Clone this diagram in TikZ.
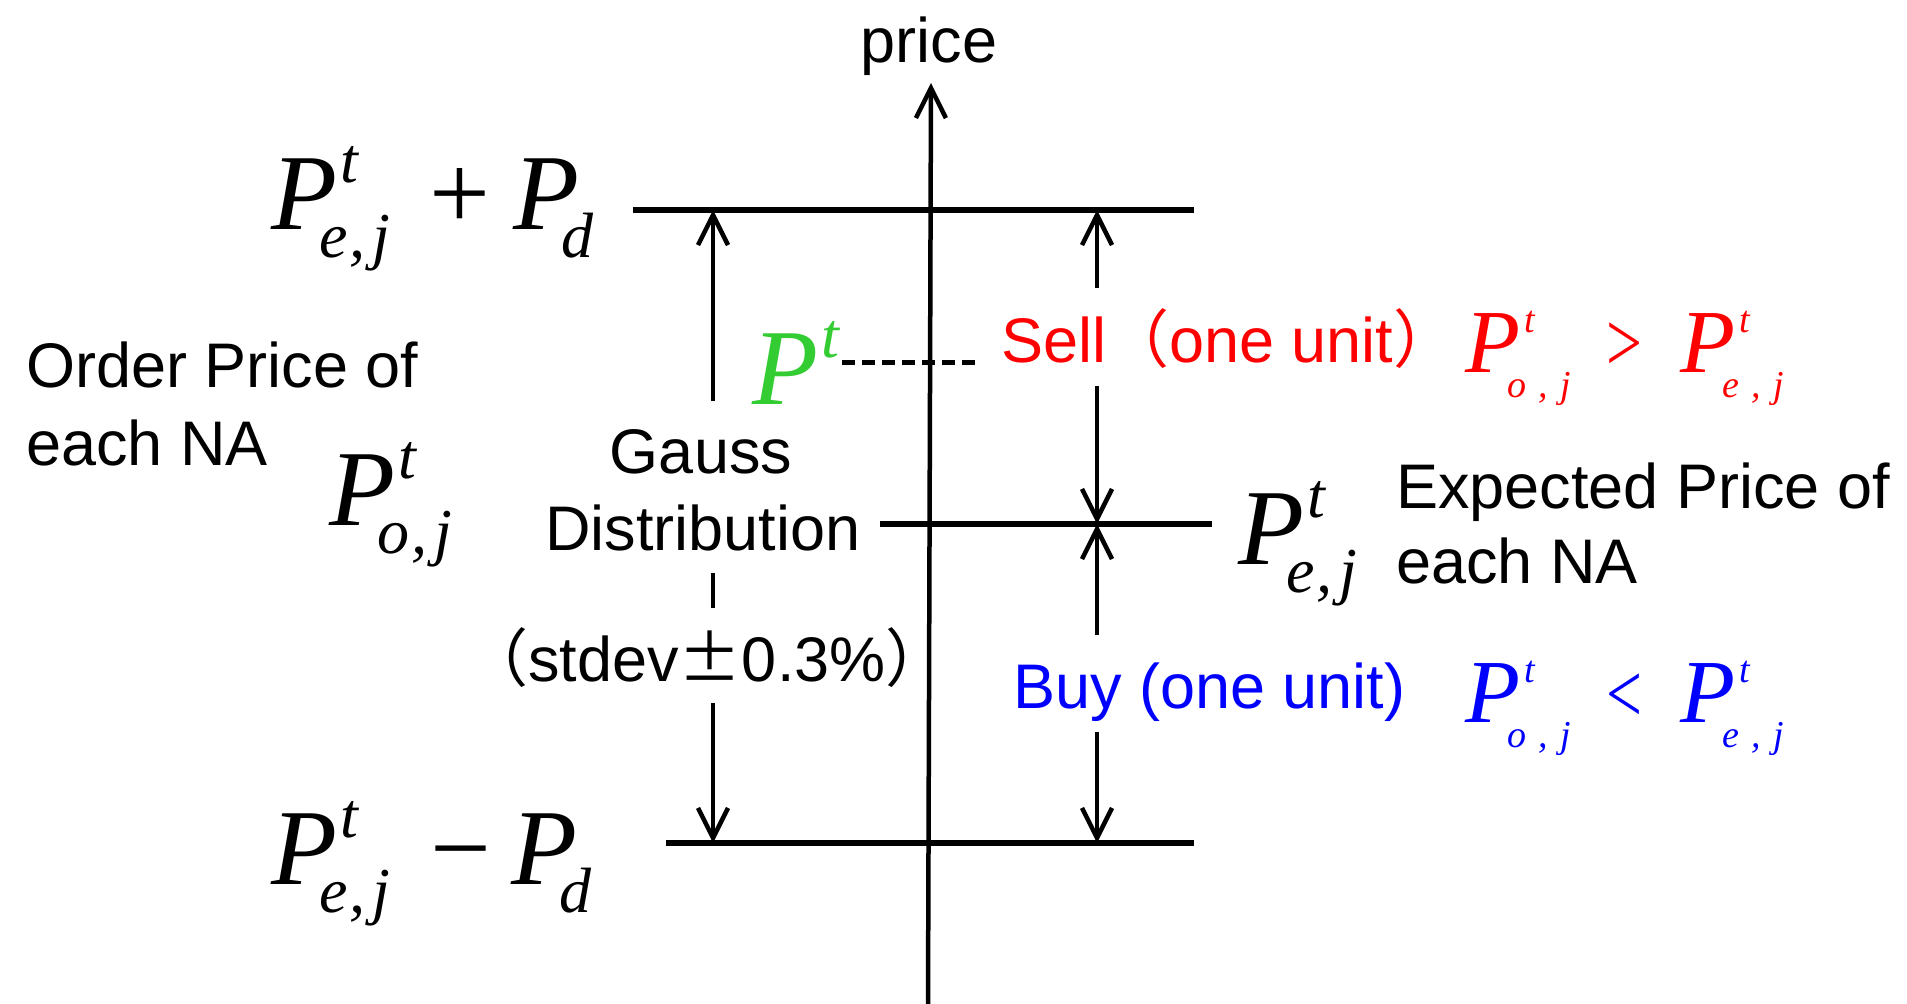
\documentclass[tikz,border=0pt]{standalone}
\usepackage{fontspec}
\usepackage{graphicx}
\setmainfont{Liberation Sans}
\newfontfamily\tms{Liberation Serif}
\newfontfamily\cjk{Noto Sans CJK JP}
\usetikzlibrary{arrows.meta}
\definecolor{pgreen}{RGB}{51,204,51}
\newcommand{\Psup}{\rlap{\kern3pt\raisebox{47pt}{\fontsize{64}{64}\selectfont t}}}
\newcommand{\Psb}[1]{\kern-18pt\raisebox{-28pt}{\fontsize{64}{64}\selectfont #1}}
\newcommand{\Pej}[1]{P\Psup\Psb{#1\kern2pt,\kern7pt j}}
\newcommand{\Psm}[1]{P\rlap{\kern4pt\raisebox{40pt}{\fontsize{38}{38}\selectfont t}}\kern-13pt\raisebox{-25pt}{\fontsize{38}{38}\selectfont #1\kern12pt,\kern13pt j}}
\begin{document}
\begin{tikzpicture}[x=1pt,y=-1pt,
 txt/.style={inner sep=0pt, font=\fontsize{63}{63}\selectfont, anchor=base west},
 bigm/.style={inner sep=0pt, anchor=base west, font=\fontsize{108}{108}\selectfont\tms\itshape},
 bigop/.style={inner sep=0pt, anchor=base west, font=\fontsize{108}{108}\selectfont\tms},
 smm/.style={inner sep=0pt, anchor=base west, font=\fontsize{90}{90}\selectfont\tms\itshape},
 rel/.style={inner sep=0pt, anchor=base west, font=\fontsize{85}{85}\selectfont\tms},
 hline/.style={line width=5.5pt},
 vline/.style={line width=4.5pt},
 tip/.style={-{Straight Barb[length=30pt,width=30pt]}},
]
\fill[white] (0,0) rectangle (1907,1004);
\useasboundingbox (0,0) rectangle (1907,1004);
% axis
\coordinate (axb) at (928,1004);
\coordinate (axt) at (931,83);
\draw[vline,tip] (axb) -- (axt);
\node[txt, anchor=base] (price) at (929,62) {price};
% horizontal levels
\coordinate (tl) at (633,210); \coordinate (tr) at (1194,210);
\coordinate (ml) at (880,524); \coordinate (mr) at (1212,524);
\coordinate (bl) at (666,843); \coordinate (br) at (1194,843);
\draw[hline] (tl) -- (tr);
\draw[hline] (ml) -- (mr);
\draw[hline] (bl) -- (br);
% Gauss arrow
\coordinate (g1) at (713,401); \coordinate (g1t) at (713,210);
\coordinate (g2) at (713,573); \coordinate (g2e) at (713,608);
\coordinate (g3) at (713,703); \coordinate (g3t) at (713,843);
\draw[vline,tip] (g1) -- (g1t);
\draw[vline] (g2) -- (g2e);
\draw[vline,tip] (g3) -- (g3t);
% Sell / Buy arrows
\coordinate (r1) at (1097,288); \coordinate (r1t) at (1097,210);
\coordinate (r2) at (1097,386); \coordinate (r2t) at (1097,524);
\coordinate (r3) at (1097,635); \coordinate (r3t) at (1097,524);
\coordinate (r4) at (1097,732); \coordinate (r4t) at (1097,843);
\draw[vline,tip] (r1) -- (r1t);
\draw[vline,tip] (r2) -- (r2t);
\draw[vline,tip] (r3) -- (r3t);
\draw[vline,tip] (r4) -- (r4t);
% dashed from P^t
\coordinate (d1) at (842,362); \coordinate (d2) at (977,362);
\draw[line width=5pt, dash pattern=on 13pt off 7pt] (d1) -- (d2);
% texts
\node[txt] (order1) at (26,387) {Order Price of};
\node[txt] (order2) at (26,465) {each NA};
\node[txt, anchor=base] (gauss) at (701,473) {Gauss};
\node[txt, anchor=base] (distr) at (703,550) {Distribution};
\node[txt, anchor=base] (stdev) at (707,681) {{\cjk （}stdev{\cjk ±}0.3\%{\cjk ）}};
\node[txt, red] (sell) at (1001,362) {Sell{\cjk （}one unit{\cjk ）}};
\node[txt, blue] (buy) at (1013,708) {Buy (one unit)};
\node[txt] (exp1) at (1396,508) {Expected Price of};
\node[txt] (exp2) at (1396,583) {each NA};
% formulas
\node[bigm] (fA1) at (271,229) {\Pej{e}};
\node[bigop] (fAop) at (429,229) {+};
\node[bigm] (fA2) at (513,229) {P\Psb{d}};
\node[bigm] (fB) at (329,525) {\Pej{o}};
\node[bigm] (fC) at (1238,564) {\Pej{e}};
\node[bigm] (fD1) at (271,884) {\Pej{e}};
\node[bigop] (fDop) at (430,884) {−};
\node[bigm] (fD2) at (511,884) {P\Psb{d}};
\node[bigm, pgreen] (fG) at (752,404) {P\Psup};
% sell condition
\node[smm, red] (sP1) at (1465,372) {\Psm{o}};
\node[rel, red] (sgt) at (1606,371) {\scalebox{0.75}[1]{>}};
\node[smm, red] (sP2) at (1680,372) {\Psm{e}};
% buy condition
\node[smm, blue] (bP1) at (1465,722) {\Psm{o}};
\node[rel, blue] (blt) at (1606,722) {\scalebox{0.75}[1]{<}};
\node[smm, blue] (bP2) at (1680,722) {\Psm{e}};
\end{tikzpicture}
\end{document}
